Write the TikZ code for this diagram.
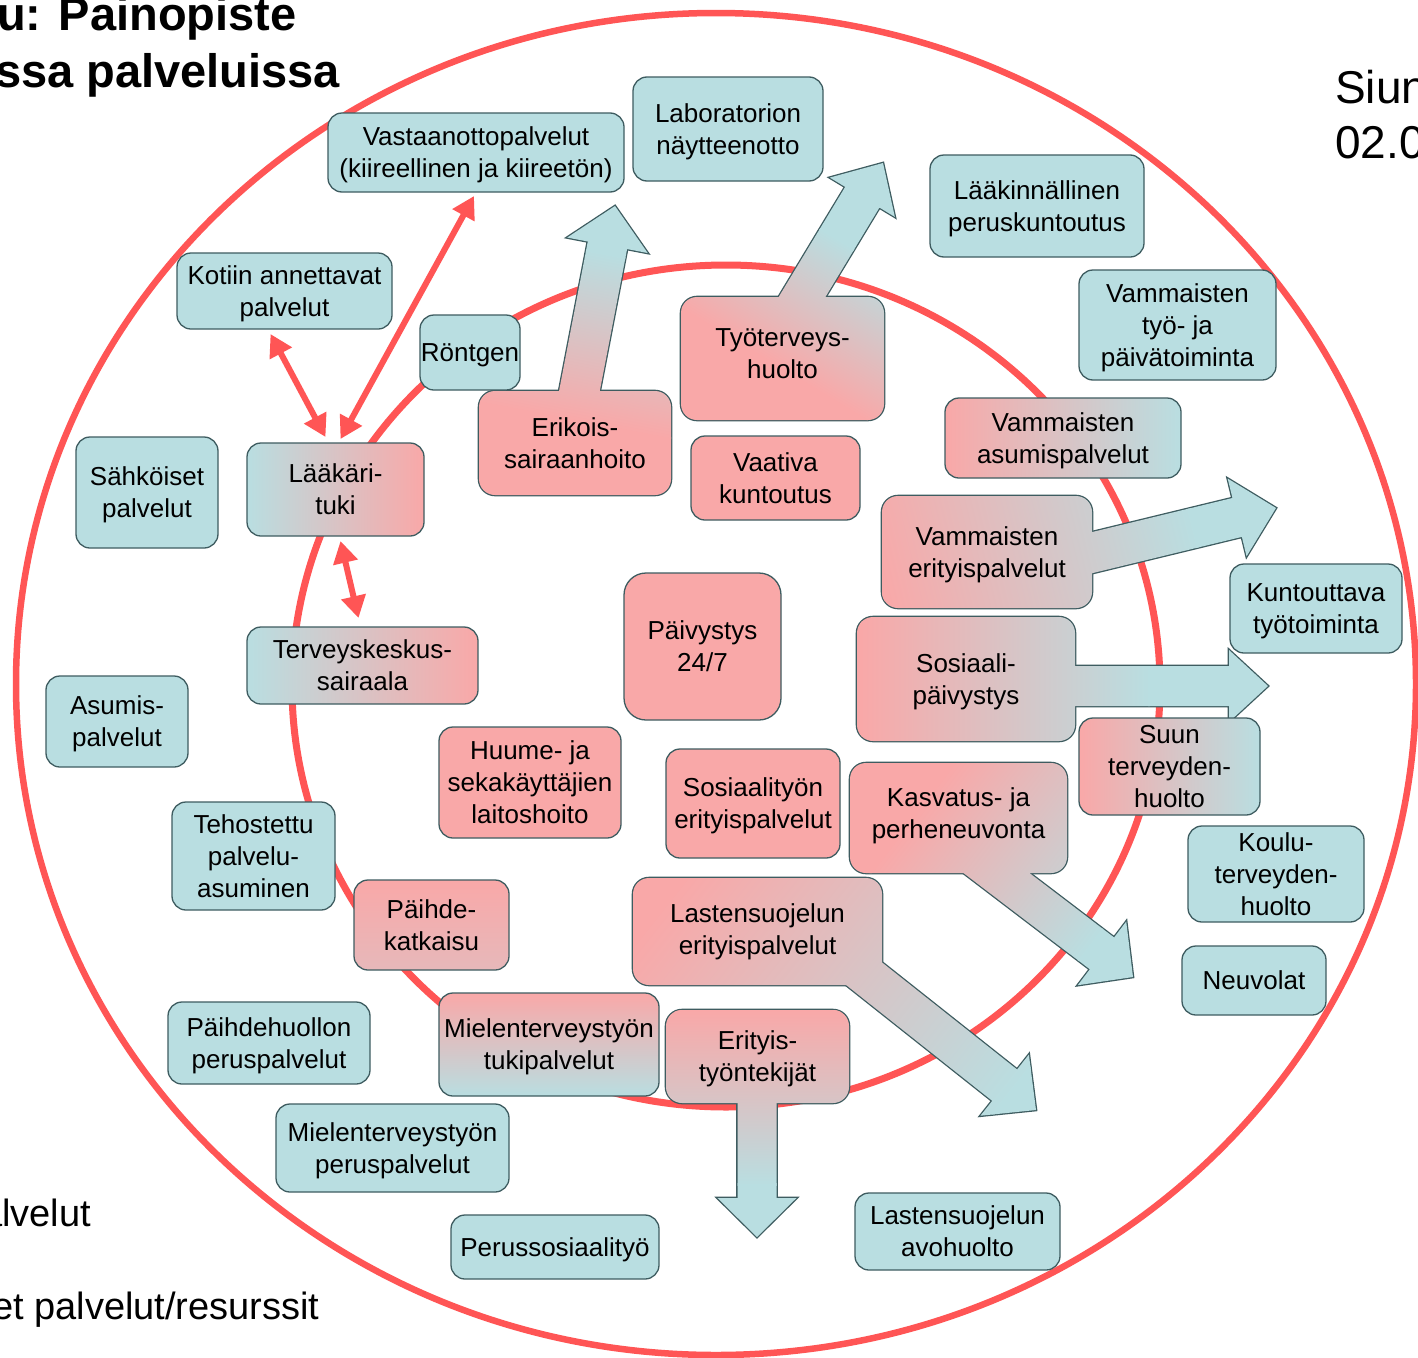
\documentclass[tikz,border=0pt]{standalone}
\usepackage{fontspec}
\setmainfont{Liberation Sans}
\usetikzlibrary{arrows.meta,calc}
\pgfdeclarelayer{back}
\pgfsetlayers{back,main}

\definecolor{bluec}{RGB}{185,222,225}
\definecolor{pinkc}{RGB}{249,168,168}
\definecolor{midc}{RGB}{208,204,208}
\definecolor{edgec}{RGB}{62,92,96}
\definecolor{redc}{RGB}{255,85,85}

% wide arrow outline: start, tip, half shaft, half head, head length
\newcommand{\blockarrow}[5]{($(#1)!#3!90:(#2)$) -- ($(#2)!#5!(#1)!#3!90:(#2)$) -- ($(#2)!#5!(#1)!#4!90:(#2)$) -- (#2) -- ($(#2)!#5!(#1)!#4!-90:(#2)$) -- ($(#2)!#5!(#1)!#3!-90:(#2)$) -- ($(#1)!#3!-90:(#2)$) -- cycle}

% pink to blue band along the arrow: origin, angle, from, to
\newcommand{\shadeband}[4]{%
  \begin{scope}[transform canvas={shift={(#1)},rotate=#2}]
    \fill[pinkc] (-600,-400) rectangle ({#3+2},400);
    \fill[bluec] ({#4-2},-400) rectangle (600,400);
    \shade[left color=pinkc,middle color=midc,right color=bluec] (#3,-400) rectangle (#4,400);
  \end{scope}}

% box and arrow as one shape
\newcommand{\arrowbox}[9]{%
  \draw[rim, rounded corners=16pt] (#1.south west) rectangle (#1.north east);
  \draw[rim] \blockarrow{#2}{#3}{#4}{#5}{#6};
  \begin{scope}
    \clip[rounded corners=16pt] (#1.south west) rectangle (#1.north east);
    \shadeband{#2}{#7}{#8}{#9}
  \end{scope}
  \begin{scope}
    \clip \blockarrow{#2}{#3}{#4}{#5}{#6};
    \shadeband{#2}{#7}{#8}{#9}
  \end{scope}}

\begin{document}
\begin{tikzpicture}[x=1pt, y=-1pt,
    every node/.style={font=\fontsize{26}{32}\selectfont},
    wh/.style 2 args={minimum width=#1pt, minimum height=#2pt},
    bare/.style={align=center, inner sep=0pt, outer sep=0pt, text depth=-2pt},
    boxed/.style={bare, draw=edgec, line width=1.3pt, rounded corners=14pt},
    bluebox/.style={boxed, fill=bluec},
    pinkbox/.style={boxed, fill=pinkc},
    rim/.style={draw=edgec, line width=2.6pt},
    ring/.style={draw=redc, line width=6.5pt},
    duo/.style={{Triangle[length=22pt,width=24pt]}-{Triangle[length=22pt,width=24pt]}, draw=redc, line width=6pt}]
    \useasboundingbox (0,0) rectangle (1418,1357);

    % headings, cut by the page edge
    \node[anchor=base west, inner sep=0pt, font=\fontsize{47}{56}\selectfont\bfseries] (head1) at (-3,30) {u: Painopiste};
    \node[anchor=base west, inner sep=0pt, font=\fontsize{47}{56}\selectfont\bfseries] (head2) at (-5,87) {ssa palveluissa};
    \node[anchor=base west, inner sep=0pt, font=\fontsize{46}{55}\selectfont] (siun) at (1335,103) {Siun};
    \node[anchor=base west, inner sep=0pt, font=\fontsize{46}{55}\selectfont] (date) at (1335,158) {02.0};
    \node[anchor=base west, inner sep=0pt, font=\fontsize{38}{45}\selectfont] (leg1) at (-19,1226) {alvelut};
    \node[anchor=base west, inner sep=0pt, font=\fontsize{38}{45}\selectfont] (leg2) at (-8,1319) {et palvelut/resurssit};

    % outer ring services
    \node[bluebox, wh={296}{79}] (vast) at (476,152.5) {Vastaanottopalvelut\\(kiireellinen ja kiireetön)};
    \node[bluebox, wh={190}{104}] (lab) at (728,129) {Laboratorion\\näytteenotto};
    \node[bluebox, wh={214}{102}] (lkunt) at (1037,206) {Lääkinnällinen\\peruskuntoutus};
    \node[bluebox, wh={215}{76}] (kot) at (284.5,291) {Kotiin annettavat\\palvelut};
    \node[bluebox, wh={100}{75}] (ront) at (470,352.5) {Röntgen};
    \node[bluebox, wh={197}{110}] (vtyo) at (1177.5,325) {Vammaisten\\työ- ja\\päivätoiminta};
    \node[bluebox, wh={142}{111}] (sahk) at (147,492.5) {Sähköiset\\palvelut};
    \node[boxed, wh={177}{93}, left color=bluec, middle color=midc, right color=pinkc] (laak) at (335.5,489.5) {Lääkäri-\\tuki};
    \node[boxed, wh={231}{77}, left color=bluec, middle color=midc, right color=pinkc] (terv) at (362.5,665.5) {Terveyskeskus-\\sairaala};
    \node[bluebox, wh={142}{91}] (asum) at (117,721.5) {Asumis-\\palvelut};
    \node[bluebox, wh={172}{89}] (kunt) at (1316,608.5) {Kuntouttava\\työtoiminta};
    \node[boxed, wh={181}{97}, left color=pinkc, middle color=midc, right color=bluec] (suun) at (1169.5,766.5) {Suun\\terveyden-\\huolto};
    \node[bluebox, wh={176}{96}] (koulu) at (1276,874) {Koulu-\\terveyden-\\huolto};
    \node[bluebox, wh={144}{69}] (neuv) at (1254,980.5) {Neuvolat};
    \node[bluebox, wh={163}{108}] (teho) at (253.5,856) {Tehostettu\\palvelu-\\asuminen};
    \node[bluebox, wh={202}{82}] (phper) at (269,1043) {Päihdehuollon\\peruspalvelut};
    \node[bluebox, wh={233}{88}] (mtper) at (392.5,1148) {Mielenterveystyön\\peruspalvelut};
    \node[bluebox, wh={208}{64}] (psos) at (555,1247) {Perussosiaalityö};
    \node[bluebox, wh={205}{77}] (lsavo) at (957.5,1231.5) {Lastensuojelun\\avohuolto};
    \node[boxed, wh={236}{80}, left color=pinkc, middle color=midc, right color=bluec] (vasum) at (1063,438) {Vammaisten\\asumispalvelut};
    \node[boxed, wh={220}{103}, top color=pinkc, middle color=midc, bottom color=bluec] (mttuki) at (549,1044.5) {Mielenterveystyön\\tukipalvelut};

    % inner ring services
    \node[pinkbox, wh={169}{84}] (vaat) at (775.5,478) {Vaativa\\kuntoutus};
    \node[pinkbox, wh={157}{147}, rounded corners=22pt] (paiv) at (702.5,646.5) {Päivystys\\24/7};
    \node[pinkbox, wh={182}{111}] (huume) at (530,782.5) {Huume- ja\\sekakäyttäjien\\laitoshoito};
    \node[pinkbox, wh={174}{109}] (soser) at (753,803.5) {Sosiaalityön\\erityispalvelut};
    \node[boxed, wh={155}{90}, top color=pinkc, bottom color=pinkc!55!midc] (katk) at (431.5,925) {Päihde-\\katkaisu};

    % inner services that reach outwards
    \node[bare, wh={192}{104}] (erik) at (575,443) {Erikois-\\sairaanhoito};
    \node[bare, wh={203}{123}, text depth=10pt] (tyot) at (782.5,358.5) {Työterveys-\\huolto};
    \node[bare, wh={210}{112}] (verit) at (987,552) {Vammaisten\\erityispalvelut};
    \node[bare, wh={218}{124}, text depth=-8.5pt] (sospv) at (966,679) {Sosiaali-\\päivystys};
    \node[bare, wh={217}{110}, text depth=9.5pt] (kasv) at (958.5,818) {Kasvatus- ja\\perheneuvonta};
    \node[bare, wh={249}{107}, text depth=4pt] (lser) at (757.5,931.5) {Lastensuojelun\\erityispalvelut};
    \node[bare, wh={183}{93}, text depth=-4.5pt] (eritt) at (757.5,1056.5) {Erityis-\\työntekijät};

    \coordinate (erikS) at (570,440);   \coordinate (erikT) at (615,206);
    \coordinate (tyotS) at (770,350);   \coordinate (tyotT) at (883,163);
    \coordinate (veritS) at (1000,575); \coordinate (veritT) at (1276,508);
    \coordinate (sospvS) at (960,686);  \coordinate (sospvT) at (1268,686);
    \coordinate (kasvS) at (940,830);   \coordinate (kasvT) at (1133,977);
    \coordinate (lserS) at (848,961);   \coordinate (lserT) at (1036,1110);
    \coordinate (erittS) at (757,1060); \coordinate (erittT) at (757,1237);

    \begin{pgfonlayer}{back}
        \fill[white] (0,0) rectangle (1418,1357);
        % outer and inner ring
        \draw[ring] (716,684) ellipse [x radius=700pt, y radius=671pt];
        \draw[ring, line width=7pt] (726,686) ellipse [x radius=434pt, y radius=421pt];

        % boxes with wide arrows
        \arrowbox{erik}{erikS}{erikT}{20pt}{41pt}{40pt}{79.1}{20}{190}
        \arrowbox{tyot}{tyotS}{tyotT}{20pt}{38pt}{40pt}{58.9}{-10}{130}
        \arrowbox{verit}{veritS}{veritT}{20pt}{40pt}{40pt}{13.6}{-120}{200}
        \arrowbox{sospv}{sospvS}{sospvT}{20pt}{36pt}{39pt}{0}{-100}{190}
        \arrowbox{kasv}{kasvS}{kasvT}{20pt}{40pt}{39pt}{-37.3}{-30}{190}
        \arrowbox{lser}{lserS}{lserT}{20pt}{39pt}{40pt}{-38.4}{-180}{210}
        \arrowbox{eritt}{erittS}{erittT}{19.5pt}{39.5pt}{39pt}{-90}{-50}{125}
    \end{pgfonlayer}

    % red links around Lääkäri-tuki
    \draw[duo] ([xshift=5pt,yshift=4pt]laak.north) -- ([xshift=-2pt,yshift=-4pt]vast.south);
    \draw[duo] ([xshift=-10pt,yshift=6pt]laak.north) -- ([xshift=-14pt,yshift=-5pt]kot.south);
    \draw[duo] ([xshift=5pt,yshift=-5pt]laak.south) -- ([xshift=-4pt,yshift=9pt]terv.north);

\end{tikzpicture}
\end{document}
